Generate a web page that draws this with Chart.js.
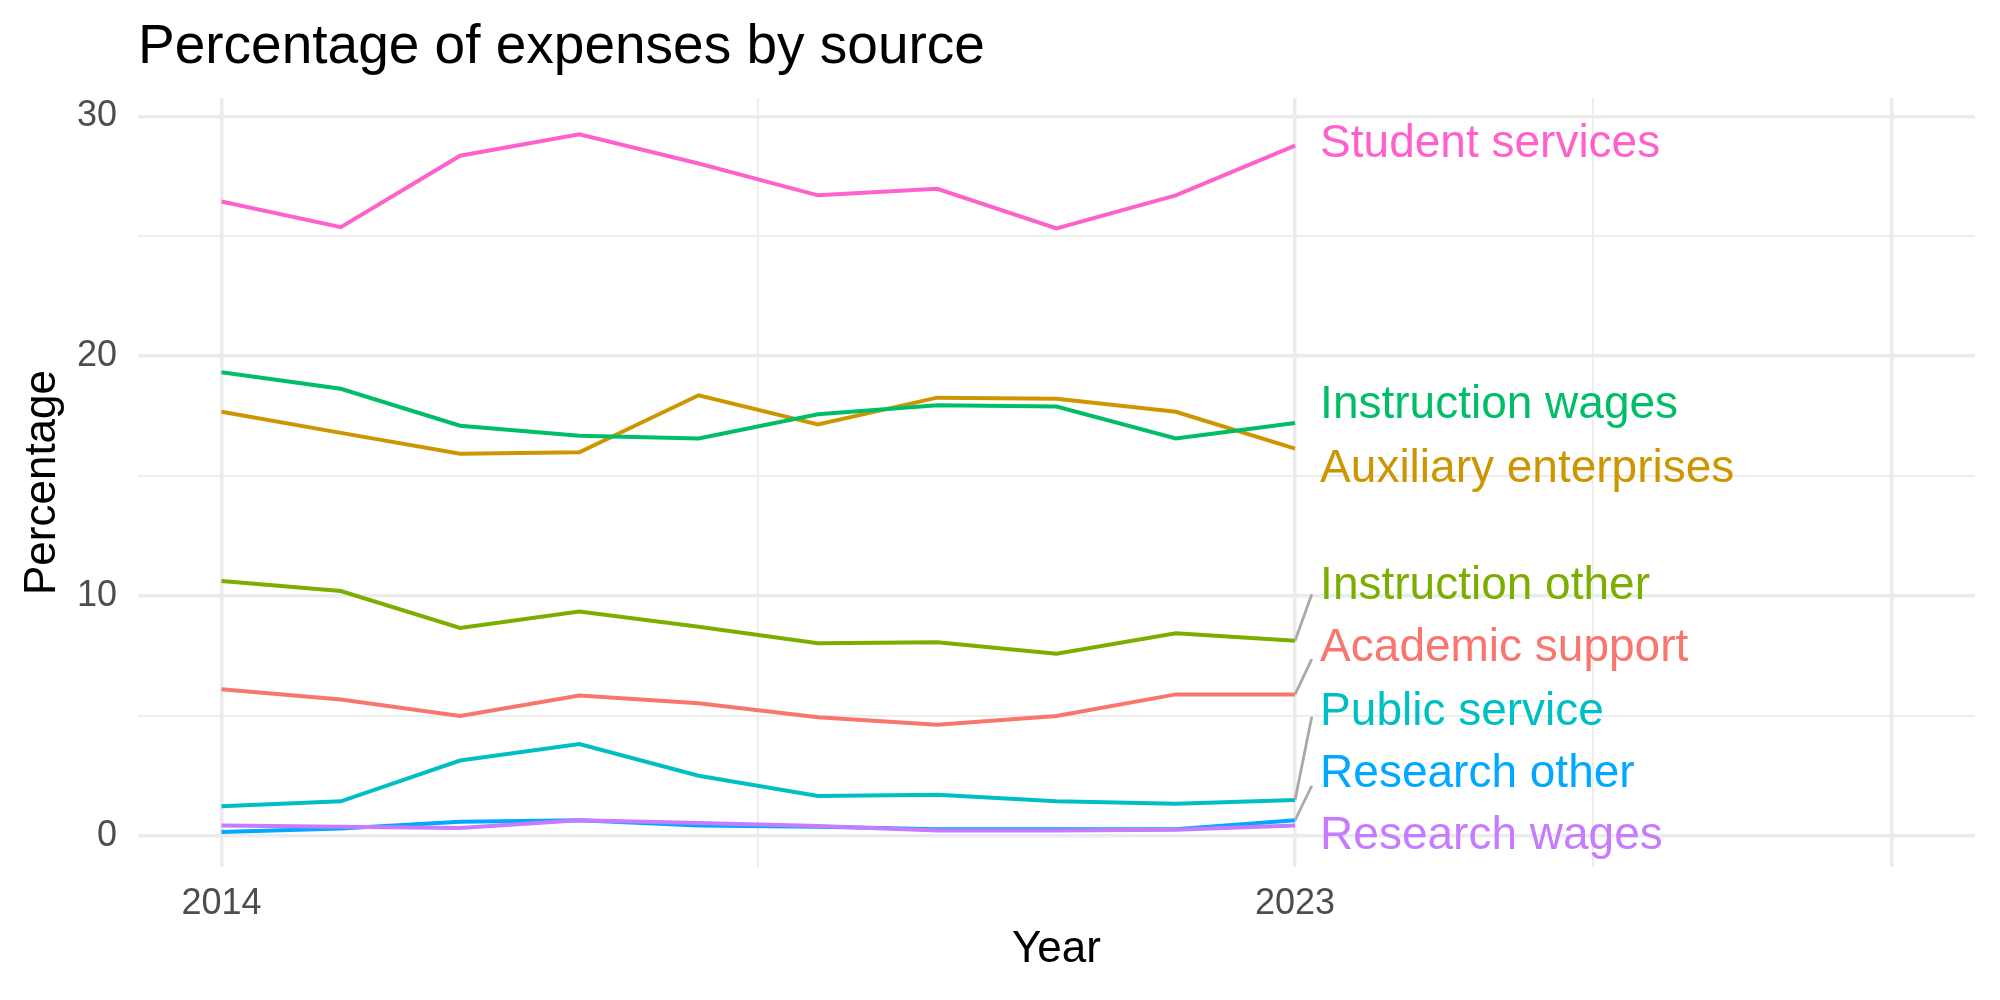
<!DOCTYPE html>
<html>
<head>
<meta charset="utf-8">
<title>Percentage of expenses by source</title>
<script src="https://cdn.jsdelivr.net/npm/chart.js@4.4.1/dist/chart.umd.min.js"></script>
<style>
    html, body { margin: 0; padding: 0; background: #fff; }
    canvas { display: block; }
</style>
</head>
<body>
<canvas id="expensesChart" width="2000" height="1000"></canvas>
<script>
//--- Data
var years = [2014, 2015, 2016, 2017, 2018, 2019, 2020, 2021, 2022, 2023];

var seriesNames = ['Academic support', 'Auxiliary enterprises', 'Instruction other', 'Instruction wages',
    'Public service', 'Research other', 'Research wages', 'Student services'];
var seriesColors = ['#F8766D', '#CD9600', '#7CAE00', '#00BE67', '#00BFC4', '#00A9FF', '#C77CFF', '#FF61CC'];

var academicSupport = [6.11, 5.68, 4.99, 5.84, 5.52, 4.94, 4.62, 4.99, 5.89, 5.89];
var auxiliaryEnterprises = [17.68, 16.80, 15.93, 15.99, 18.37, 17.15, 18.27, 18.22, 17.68, 16.14];
var instructionOther = [10.62, 10.20, 8.66, 9.35, 8.71, 8.02, 8.07, 7.59, 8.44, 8.13];
var instructionWages = [19.33, 18.64, 17.10, 16.68, 16.57, 17.58, 17.95, 17.90, 16.57, 17.21];
var publicService = [1.22, 1.43, 3.13, 3.82, 2.50, 1.65, 1.70, 1.43, 1.33, 1.49];
var researchOther = [0.15, 0.30, 0.58, 0.64, 0.42, 0.37, 0.27, 0.27, 0.27, 0.64];
var researchWages = [0.42, 0.37, 0.32, 0.64, 0.53, 0.40, 0.21, 0.21, 0.24, 0.42];
var studentServices = [26.45, 25.38, 28.36, 29.26, 28.04, 26.71, 26.98, 25.33, 26.71, 28.78];

var seriesValues = [academicSupport, auxiliaryEnterprises, instructionOther, instructionWages,
    publicService, researchOther, researchWages, studentServices];

// end labels (repelled) and where their connector lines stop, in data units
var labelY = [7.8, 15.3, 10.4, 17.93, 5.15, 2.55, -0.05, 28.82];
var segmentEndY = [7.36, null, 10.07, null, 4.96, 2.08, null, null];

var xTicks = [2014, 2018.5, 2023, 2025.5, 2028];
var xTickLabels = ['2014', '', '2023', '', ''];
var yTicks = [0, 5, 10, 15, 20, 25, 30];
var yTickLabels = ['0', '', '10', '', '20', '', '30'];

//--- Helpers
var fontFamily = '"Liberation Sans", Arial, Helvetica, sans-serif';
var lastYear = years[years.length - 1];

function isMajorX(value) {
    return xTickLabels[xTicks.indexOf(value)] !== '' || value === 2028;
}

var endLabels = {
    id: 'endLabels',
    afterDatasetsDraw: function (chart) {
        var ctx = chart.ctx;
        var xs = chart.scales.x;
        var ys = chart.scales.y;
        ctx.save();
        seriesNames.forEach(function (name, i) {
            var vals = seriesValues[i];
            if (segmentEndY[i] !== null) {
                ctx.strokeStyle = '#A9A9A9';
                ctx.lineWidth = 2.8;
                ctx.beginPath();
                ctx.moveTo(xs.getPixelForValue(lastYear), ys.getPixelForValue(vals[vals.length - 1]));
                ctx.lineTo(xs.getPixelForValue(lastYear + 0.14), ys.getPixelForValue(segmentEndY[i]));
                ctx.stroke();
            }
            ctx.fillStyle = seriesColors[i];
            ctx.font = '46px ' + fontFamily;
            ctx.textBaseline = 'middle';
            ctx.textAlign = 'left';
            ctx.fillText(name, xs.getPixelForValue(lastYear + 0.21), ys.getPixelForValue(labelY[i]));
        });
        ctx.restore();
    }
};

//--- Chart
var datasets = seriesNames.map(function (name, i) {
    return {
        label: name,
        data: years.map(function (yr, j) { return { x: yr, y: seriesValues[i][j] }; }),
        borderColor: seriesColors[i],
        backgroundColor: seriesColors[i],
        borderWidth: 4,
        pointRadius: 0,
        tension: 0,
        order: seriesNames.length - 1 - i
    };
});

new Chart(document.getElementById('expensesChart'), {
    type: 'line',
    data: { datasets: datasets },
    options: {
        responsive: false,
        animation: false,
        devicePixelRatio: 1,
        layout: { padding: { left: 16, right: 25, top: 0, bottom: 24 } },
        plugins: {
            legend: { display: false },
            tooltip: { enabled: false },
            title: {
                display: true,
                text: 'Percentage of expenses by source',
                align: 'start',
                fullSize: false,
                color: '#000',
                font: { family: fontFamily, size: 55, weight: 'normal' },
                padding: { top: 15, bottom: 17 }
            }
        },
        scales: {
            x: {
                type: 'linear',
                min: 2013.3,
                max: 2028.7,
                afterBuildTicks: function (scale) {
                    scale.ticks = xTicks.map(function (v) { return { value: v }; });
                },
                afterFit: function (scale) { scale.height = 109; },
                ticks: {
                    autoSkip: false,
                    maxRotation: 0,
                    padding: 15,
                    color: '#4D4D4D',
                    font: { family: fontFamily, size: 36 },
                    callback: function (value) { return xTickLabels[xTicks.indexOf(value)]; }
                },
                grid: {
                    color: '#EBEBEB',
                    drawTicks: false,
                    lineWidth: function (c) {
                        return isMajorX(c.tick.value) ? 3.5 : 1.75;
                    }
                },
                border: { display: false },
                title: {
                    display: true,
                    text: 'Year',
                    color: '#000',
                    font: { family: fontFamily, size: 44 },
                    padding: 0
                }
            },
            y: {
                type: 'linear',
                min: -1.31,
                max: 30.77,
                afterBuildTicks: function (scale) {
                    scale.ticks = yTicks.map(function (v) { return { value: v }; });
                },
                afterFit: function (scale) { scale.width = 122; },
                ticks: {
                    autoSkip: false,
                    padding: 21,
                    color: '#4D4D4D',
                    font: { family: fontFamily, size: 36 },
                    callback: function (value) { return yTickLabels[yTicks.indexOf(value)]; }
                },
                grid: {
                    color: '#EBEBEB',
                    drawTicks: false,
                    lineWidth: function (c) {
                        return yTickLabels[yTicks.indexOf(c.tick.value)] !== '' ? 3.5 : 1.75;
                    }
                },
                border: { display: false },
                title: {
                    display: true,
                    text: 'Percentage',
                    color: '#000',
                    font: { family: fontFamily, size: 44 },
                    padding: 0
                }
            }
        }
    },
    plugins: [endLabels]
});
</script>
</body>
</html>
